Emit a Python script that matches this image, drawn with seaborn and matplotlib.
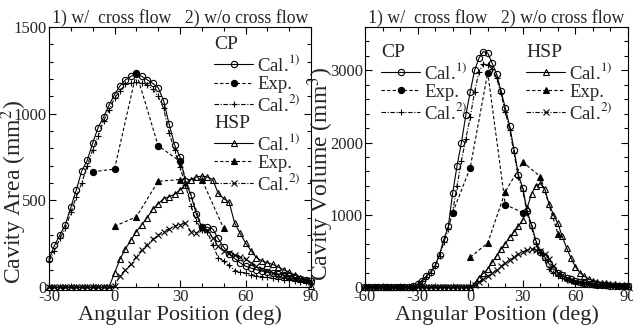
import numpy as np
import pandas as pd
import matplotlib
matplotlib.use("Agg")
import matplotlib.pyplot as plt
from matplotlib.lines import Line2D
from matplotlib.legend import Legend
from matplotlib.ticker import MultipleLocator
import seaborn as sns

#
# DATA
#

# left panel: cavity area (mm^2), calculation every 2.5 deg
area_angle = np.arange(-30, 90.1, 2.5)

cp_cal1_area = [160, 240, 300, 360, 460, 560, 670, 730, 830, 920,
                980, 1050, 1110, 1160, 1195, 1215, 1230, 1215, 1195, 1175,
                1150, 1075, 940, 820, 750, 610, 530, 420, 345, 345,
                335, 280, 230, 190, 165, 140, 120, 110, 100, 92,
                87, 80, 75, 70, 62, 55, 48, 42, 36]
cp_cal2_area = [150, 210, 280, 340, 430, 520, 600, 700, 790, 870,
                960, 1020, 1090, 1130, 1170, 1175, 1180, 1175, 1165, 1140,
                1100, 1030, 890, 790, 690, 590, 470, 380, 330, 320,
                240, 170, 150, 125, 95, 88, 80, 72, 65, 60,
                55, 50, 45, 42, 38, 35, 30, 26, 22]
hsp_cal1_area = [0] * 12 + [80, 160, 220, 270, 320, 360, 400, 450, 480, 510,
                            520, 535, 560, 590, 620, 635, 640, 635, 620, 540,
                            510, 490, 370, 310, 255, 210, 170, 150, 140, 130,
                            115, 100, 85, 70, 50, 40, 5]
hsp_cal2_area = [0] * 12 + [5, 65, 100, 130, 175, 215, 245, 275, 300, 320,
                            335, 350, 360, 368, 320, 310, 335, 330, 285, 235,
                            205, 195, 185, 175, 160, 140, 120, 105, 90, 80,
                            72, 65, 58, 50, 45, 38, 30]

cp_exp_area_angle = [-10, 0, 10, 20, 30, 40]
cp_exp_area = [665, 680, 1235, 815, 725, 345]
hsp_exp_area_angle = [0, 10, 20, 30, 40, 50]
hsp_exp_area = [350, 405, 610, 620, 620, 338]

# right panel: cavity volume (mm^3)
vol_angle = np.arange(-60, 90.1, 2.5)

cp_cal1_vol = [0] * 11 + [15, 40, 90, 150, 210, 300, 450, 660, 840, 1300,
                          1680, 2000, 2380, 2700, 3000, 3170, 3260, 3240, 3100, 2950,
                          2720, 2480, 2230, 1900, 1550, 1370, 1050, 860, 640, 490,
                          420, 320, 250, 200, 160, 130, 105, 85, 70, 58,
                          48, 40, 34, 28, 24, 20, 16, 13, 10, 8]
cp_cal2_vol = [0] * 11 + [10, 35, 80, 140, 200, 290, 430, 620, 800, 1050,
                          1400, 1750, 2050, 2350, 2700, 2980, 3090, 3080, 3020, 2900,
                          2680, 2430, 2180, 1850, 1520, 1330, 1020, 820, 600, 470,
                          380, 250, 190, 150, 120, 95, 78, 62, 50, 42,
                          35, 30, 25, 21, 18, 15, 12, 10, 8, 6]
hsp_cal1_vol = [0] * 25 + [40, 130, 190, 250, 340, 430, 520, 600, 690, 760,
                           840, 930, 1100, 1290, 1400, 1430, 1360, 1150, 1000, 880,
                           700, 540, 400, 280, 200, 150, 110, 90, 75, 62,
                           50, 42, 35, 28, 22, 18]
hsp_cal2_vol = [0] * 25 + [30, 70, 110, 150, 190, 235, 285, 335, 380, 420,
                           455, 485, 510, 520, 515, 495, 460, 390, 290, 200,
                           160, 125, 100, 82, 68, 56, 47, 40, 34, 29,
                           25, 21, 18, 15, 12, 10]

cp_exp_vol_angle = [-10, 0, 10, 20, 30]
cp_exp_vol = [1030, 1650, 2970, 1140, 1030]
hsp_exp_vol_angle = [0, 10, 20, 30, 40, 50]
hsp_exp_vol = [410, 610, 1320, 1730, 1530, 740]

title_text = "1) w/  cross flow   2) w/o cross flow"

#
# STYLE
#

sns.set_theme(style="ticks")
plt.rcParams["font.family"] = ["Liberation Serif", "DejaVu Serif"]
plt.rcParams["mathtext.fontset"] = "stix"
plt.rcParams["axes.unicode_minus"] = False

LW = 0.8
MS = 4.5
solid = dict(linestyle="-")
dashed = dict(dashes=(3, 2))
dashdot = dict(dashes=(4, 1.5, 1, 1.5))

# (marker, filled?, line style) for each kind of series
styles = {
  "cp_cal1": ("o", False, solid),
  "cp_exp": ("o", True, dashed),
  "cp_cal2": ("+", True, dashdot),
  "hsp_cal1": ("^", False, solid),
  "hsp_exp": ("^", True, dashed),
  "hsp_cal2": ("x", True, dashdot),
}


def draw(ax, x, y, kind):
  marker, filled, ls = styles[kind]
  df = pd.DataFrame({"angle": x, "value": y})
  sns.lineplot(data=df, x="angle", y="value", ax=ax, color="black",
               marker=marker, markersize=MS, markeredgewidth=0.8,
               markerfacecolor="black" if filled else "none",
               markeredgecolor="black", linewidth=LW, clip_on=False,
               sort=False, estimator=None, **ls)


def handle(kind):
  marker, filled, ls = styles[kind]
  return Line2D([], [], color="black", marker=marker, markersize=MS,
                markeredgewidth=0.8,
                markerfacecolor="black" if filled else "none",
                linewidth=LW, **ls)


labels = ["Cal.$^{1)}$", "Exp.", "Cal.$^{2)}$"]


def add_legend(ax, group, anchor):
  hs = [handle(f"{group}_cal1"), handle(f"{group}_exp"), handle(f"{group}_cal2")]
  leg = Legend(ax, hs, labels, title=group.upper(), loc="upper left",
               bbox_to_anchor=anchor, frameon=False, fontsize=13.5,
               title_fontsize=14, handlelength=2.1, handletextpad=0.2,
               labelspacing=0.05, borderpad=0, borderaxespad=0,
               alignment="left")
  ax.add_artist(leg)


def style_axes(ax, xmaj, ymaj, ymin):
  ax.xaxis.set_major_locator(MultipleLocator(xmaj))
  ax.xaxis.set_minor_locator(MultipleLocator(10))
  ax.yaxis.set_major_locator(MultipleLocator(ymaj))
  ax.yaxis.set_minor_locator(MultipleLocator(ymin))
  ax.tick_params(which="both", direction="in", top=True, right=True,
                 labelsize=12, pad=1.5, width=0.8, color="black")
  ax.tick_params(which="major", length=5)
  ax.tick_params(which="minor", length=3)
  for s in ax.spines.values():
    s.set_linewidth(0.8)
    s.set_color("black")
  ax.set_xlabel("Angular Position (deg)", fontsize=16, labelpad=0)
  ax.set_title(title_text, fontsize=12.8, pad=3)


fig = plt.figure(figsize=(6.33, 3.25), dpi=100)
ax1 = fig.add_axes([49 / 633, 38 / 325, 262 / 633, 260 / 325])
ax2 = fig.add_axes([365 / 633, 38 / 325, 263 / 633, 260 / 325])

#
# LEFT: cavity area
#

draw(ax1, area_angle, cp_cal1_area, "cp_cal1")
draw(ax1, cp_exp_area_angle, cp_exp_area, "cp_exp")
draw(ax1, area_angle, cp_cal2_area, "cp_cal2")
draw(ax1, area_angle, hsp_cal1_area, "hsp_cal1")
draw(ax1, hsp_exp_area_angle, hsp_exp_area, "hsp_exp")
draw(ax1, area_angle, hsp_cal2_area, "hsp_cal2")

ax1.set_xlim(-30, 90)
ax1.set_ylim(0, 1500)
style_axes(ax1, 30, 500, 100)
ax1.set_ylabel("Cavity Area (mm$^2$)", fontsize=17)
ax1.yaxis.set_label_coords(-0.076, 0.365)
add_legend(ax1, "cp", (0.63, 0.965))
add_legend(ax1, "hsp", (0.63, 0.662))

#
# RIGHT: cavity volume
#

draw(ax2, vol_angle, cp_cal1_vol, "cp_cal1")
draw(ax2, cp_exp_vol_angle, cp_exp_vol, "cp_exp")
draw(ax2, vol_angle, cp_cal2_vol, "cp_cal2")
draw(ax2, vol_angle, hsp_cal1_vol, "hsp_cal1")
draw(ax2, hsp_exp_vol_angle, hsp_exp_vol, "hsp_exp")
draw(ax2, vol_angle, hsp_cal2_vol, "hsp_cal2")

ax2.set_xlim(-60, 90)
ax2.set_ylim(0, 3600)
style_axes(ax2, 30, 1000, 200)
ax2.set_ylabel("Cavity Volume (mm$^3$)", fontsize=17)
ax2.yaxis.set_label_coords(-0.11, 0.435)
add_legend(ax2, "cp", (0.061, 0.935))
add_legend(ax2, "hsp", (0.612, 0.935))

fig.savefig("out.png", dpi=100, facecolor="white")
